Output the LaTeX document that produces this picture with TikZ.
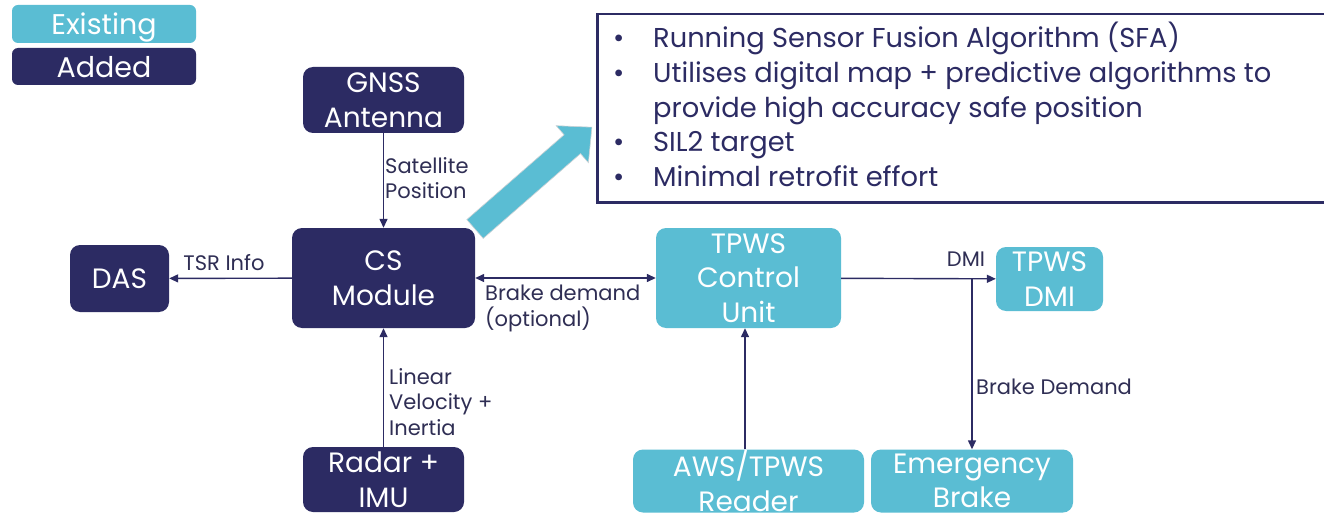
\documentclass[tikz,border=0pt]{standalone}
\usepackage{fontspec}
\setmainfont{Poppins}
\usetikzlibrary{arrows.meta}
\definecolor{addcol}{RGB}{44,43,99}
\definecolor{existcol}{RGB}{90,189,211}
\definecolor{labelcol}{RGB}{47,46,84}
\definecolor{edgecol}{RGB}{170,180,185}
\newcommand{\bul}{\makebox[42pt][l]{\hspace{2pt}•}}
\tikzset{
  blk/.style={rounded corners=10pt, text=white, align=center, inner sep=0pt,
    font=\fontsize{28}{34.5}\selectfont},
  added/.style={blk, fill=addcol},
  existing/.style={blk, fill=existcol},
  legendbox/.style={rounded corners=6pt, minimum width=184, font=\fontsize{28.5}{34}\selectfont,
    text height=24pt, text depth=2pt},
  lbl/.style={text=labelcol, font=\fontsize{21}{25.5}\selectfont, align=left, inner sep=0pt},
  link/.style={draw=addcol, line width=1.4pt, -{Triangle[length=9pt,width=8pt]}},
  both/.style={link, {Triangle[length=9pt,width=8pt]}-{Triangle[length=9pt,width=8pt]}},
}
\begin{document}
\begin{tikzpicture}[x=1pt,y=-1pt]
\useasboundingbox (0,0) rectangle (1324,513);
\fill[white] (0,0) rectangle (1324,513);

% legend
\node[existing, legendbox, minimum height=38] (legE) at (104,24) {Existing};
\node[added, legendbox, minimum height=37] (legA) at (104,66.5) {Added};

% blocks
\node[added, minimum width=161, minimum height=66] (gnss) at (383.5,100) {GNSS\\Antenna};
\node[added, minimum width=183, minimum height=100] (cs) at (383.5,278) {CS\\Module};
\node[added, minimum width=99, minimum height=67] (das) at (119.5,278.5) {DAS};
\node[added, minimum width=161, minimum height=65] (radar) at (383.5,479.5) {Radar +\\IMU};
\node[existing, minimum width=185, minimum height=100] (tpws) at (748.5,278) {TPWS\\Control\\Unit};
\node[existing, minimum width=107, minimum height=64] (dmi) at (1049.5,279) {TPWS\\DMI};
\node[existing, minimum width=231, minimum height=63] (aws) at (748.5,481) {AWS/TPWS\\Reader};
\node[existing, minimum width=202, minimum height=63] (ebrake) at (972,481) {Emergency\\Brake};

% callout
\node[draw=addcol, line width=2.5pt, minimum width=740, minimum height=188, anchor=north west, inner sep=0pt] (note) at (596,13) {};
\node[text=addcol, anchor=north west, align=left, inner sep=0pt,
  font=\fontsize{27.3}{34.7}\selectfont] (notetext) at (611,22) {%
\bul Running Sensor Fusion Algorithm (SFA)\\
\bul Utilises digital map + predictive algorithms to\\
\hspace*{42pt}provide high accuracy safe position\\
\bul SIL2 target\\
\bul Minimal retrofit effort};

% wide arrow towards the callout
\fill[existcol, draw=edgecol!60, line width=0.6pt]
  (483.2,238.4) -- (466.8,219.6) -- (564.1,134.8) -- (556.2,125.7)
  -- (591.9,127.2) -- (588.4,162.7) -- (580.5,153.6) -- cycle;

% connectors
\draw[link] (gnss) -- (cs);
\draw[link] (cs) -- (das);
\draw[both] (cs) -- (tpws);
\draw[link] (tpws) -- (dmi);
\coordinate (split) at (tpws.east -| ebrake.north);
\draw[link] (split) -- (ebrake.north);
\draw[link] (aws.north -| 745,0) -- (tpws.south -| 745,0);
\draw[link] (radar) -- (cs);

% connector labels
\node[lbl, anchor=west] (satlbl) at (385,178) {Satellite\\Position};
\node[lbl] (tsrlbl) at (224,263) {TSR Info};
\node[lbl, anchor=west] (brklbl) at (485,308.5) {Brake demand\\(optional)};
\node[lbl] (dmilbl) at (966,259) {DMI};
\node[lbl, anchor=west] (ebrlbl) at (976,387) {Brake Demand};
\node[lbl, anchor=west] (vellbl) at (389,402) {Linear\\Velocity +\\Inertia};
\end{tikzpicture}
\end{document}
